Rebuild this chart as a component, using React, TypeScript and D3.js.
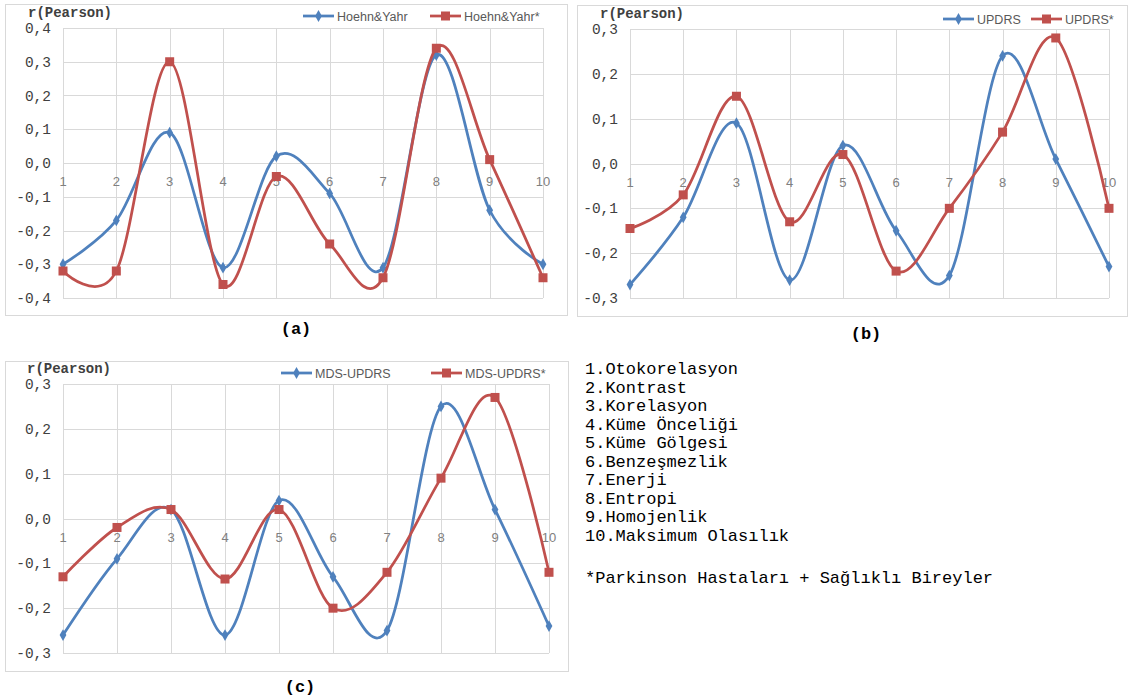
import React, { useEffect, useRef } from "react";
import * as d3 from "d3";

// x categories (feature index)
const categories = [1, 2, 3, 4, 5, 6, 7, 8, 9, 10];

// panel (a)
const hoehnYahr = [-0.3, -0.17, 0.09, -0.31, 0.02, -0.09, -0.31, 0.32, -0.14, -0.3];
const hoehnYahrAll = [-0.32, -0.32, 0.3, -0.36, -0.04, -0.24, -0.34, 0.34, 0.01, -0.34];
// panel (b)
const updrs = [-0.27, -0.12, 0.09, -0.26, 0.04, -0.15, -0.25, 0.24, 0.01, -0.23];
const updrsAll = [-0.145, -0.07, 0.15, -0.13, 0.02, -0.24, -0.1, 0.07, 0.28, -0.1];
// panel (c)
const mdsUpdrs = [-0.26, -0.09, 0.02, -0.26, 0.04, -0.13, -0.25, 0.25, 0.02, -0.24];
const mdsUpdrsAll = [-0.13, -0.02, 0.02, -0.135, 0.02, -0.2, -0.12, 0.09, 0.27, -0.12];

const ticksA = [0.4, 0.3, 0.2, 0.1, 0, -0.1, -0.2, -0.3, -0.4];
const ticksBC = [0.3, 0.2, 0.1, 0, -0.1, -0.2, -0.3];

const featureNames = [
  "1.Otokorelasyon",
  "2.Kontrast",
  "3.Korelasyon",
  "4.Küme Önceliği",
  "5.Küme Gölgesi",
  "6.Benzeşmezlik",
  "7.Enerji",
  "8.Entropi",
  "9.Homojenlik",
  "10.Maksimum Olasılık",
];
const footnote = "*Parkinson Hastaları + Sağlıklı Bireyler";

const BLUE = "#4F81BD";
const RED = "#C0504D";
const GRID = "#D9D9D9";
const MONO = "'Courier New', 'Liberation Mono', monospace";
const SANS = "'Liberation Sans', Arial, sans-serif";

const panels = [
  {
    box: [5, 4, 562, 311],
    plot: { left: 63, right: 543, top: 28, bottom: 298 },
    ticks: ticksA,
    series: [
      { name: "Hoehn&Yahr", values: hoehnYahr, color: BLUE, marker: "diamond" },
      { name: "Hoehn&Yahr*", values: hoehnYahrAll, color: RED, marker: "square" },
    ],
    legend: { y: 16, starts: [303, 430] },
    ylabel: [28, 13],
    title: ["(a)", 296, 328],
  },
  {
    box: [577, 5, 550, 311],
    plot: { left: 630, right: 1109, top: 29, bottom: 298 },
    ticks: ticksBC,
    series: [
      { name: "UPDRS", values: updrs, color: BLUE, marker: "diamond" },
      { name: "UPDRS*", values: updrsAll, color: RED, marker: "square" },
    ],
    legend: { y: 19, starts: [943, 1031] },
    ylabel: [600, 14],
    title: ["(b)", 866, 333],
  },
  {
    box: [5, 361, 563, 310],
    plot: { left: 63, right: 549, top: 384, bottom: 653 },
    ticks: ticksBC,
    series: [
      { name: "MDS-UPDRS", values: mdsUpdrs, color: BLUE, marker: "diamond" },
      { name: "MDS-UPDRS*", values: mdsUpdrsAll, color: RED, marker: "square" },
    ],
    legend: { y: 373, starts: [281, 431] },
    ylabel: [27, 369],
    title: ["(c)", 300, 686],
  },
];

const drawMarker = (g, kind, x, y, color) => {
  if (kind === "square") {
    g.append("rect")
      .attr("x", x - 4.5)
      .attr("y", y - 4.5)
      .attr("width", 9)
      .attr("height", 9)
      .attr("fill", color);
  } else {
    g.append("path")
      .attr("transform", `translate(${x},${y})`)
      .attr("d", d3.symbol().type(d3.symbolDiamond).size(40)())
      .attr("fill", color);
  }
};

const App = () => {
  const ref = useRef(null);

  useEffect(() => {
    const svg = d3.select(ref.current);
    svg.selectAll("*").remove();

    svg.append("rect").attr("width", 1129).attr("height", 697).attr("fill", "#fff");

    panels.forEach((p) => {
      const g = svg.append("g");
      const [bx, by, bw, bh] = p.box;
      g.append("rect")
        .attr("x", bx + 0.5)
        .attr("y", by + 0.5)
        .attr("width", bw)
        .attr("height", bh)
        .attr("fill", "#fff")
        .attr("stroke", GRID);

      const x = d3
        .scaleLinear()
        .domain([1, 10])
        .range([p.plot.left, p.plot.right]);
      const y = d3
        .scaleLinear()
        .domain([d3.min(p.ticks), d3.max(p.ticks)])
        .range([p.plot.bottom, p.plot.top]);

      // grid
      g.append("g")
        .selectAll("line")
        .data(p.ticks)
        .join("line")
        .attr("x1", p.plot.left)
        .attr("x2", p.plot.right)
        .attr("y1", (d) => Math.round(y(d)) + 0.5)
        .attr("y2", (d) => Math.round(y(d)) + 0.5)
        .attr("stroke", GRID);
      g.append("g")
        .selectAll("line")
        .data(categories)
        .join("line")
        .attr("x1", (d) => Math.round(x(d)) + 0.5)
        .attr("x2", (d) => Math.round(x(d)) + 0.5)
        .attr("y1", p.plot.top)
        .attr("y2", p.plot.bottom)
        .attr("stroke", GRID);

      // y tick labels
      g.append("g")
        .selectAll("text")
        .data(p.ticks)
        .join("text")
        .attr("x", p.plot.left - 12)
        .attr("y", (d) => y(d) + 5)
        .attr("text-anchor", "end")
        .attr("font-family", MONO)
        .attr("font-size", 14.5)
        .attr("fill", "#404040")
        .text((d) => d3.format(".1f")(d).replace("−", "-").replace(".", ","));

      // x tick labels
      g.append("g")
        .selectAll("text")
        .data(categories)
        .join("text")
        .attr("x", (d) => x(d))
        .attr("y", y(0) + 23)
        .attr("text-anchor", "middle")
        .attr("font-family", SANS)
        .attr("font-size", 13)
        .attr("fill", "#808080")
        .text((d) => d);

      // series
      const line = d3
        .line()
        .x((d, i) => x(categories[i]))
        .y((d) => y(d))
        .curve(d3.curveCardinal.tension(0));

      p.series.forEach((s) => {
        g.append("path")
          .datum(s.values)
          .attr("d", line)
          .attr("fill", "none")
          .attr("stroke", s.color)
          .attr("stroke-width", 2.75)
          .attr("stroke-linejoin", "round");
        s.values.forEach((v, i) => drawMarker(g, s.marker, x(categories[i]), y(v), s.color));
      });

      // axis title
      g.append("text")
        .attr("x", p.ylabel[0])
        .attr("y", p.ylabel[1] + 4)
        .attr("font-family", MONO)
        .attr("font-size", 14)
        .attr("font-weight", "bold")
        .attr("fill", "#404040")
        .text("r(Pearson)");

      // legend
      p.series.forEach((s, i) => {
        const lx = p.legend.starts[i];
        const ly = p.legend.y;
        g.append("line")
          .attr("x1", lx)
          .attr("x2", lx + 31)
          .attr("y1", ly)
          .attr("y2", ly)
          .attr("stroke", s.color)
          .attr("stroke-width", 2.75);
        drawMarker(g, s.marker, lx + 15.5, ly, s.color);
        g.append("text")
          .attr("x", lx + 34)
          .attr("y", ly + 4.5)
          .attr("font-family", SANS)
          .attr("font-size", 12.5)
          .attr("fill", "#595959")
          .text(s.name);
      });

      // caption
      svg.append("text")
        .attr("x", p.title[1])
        .attr("y", p.title[2] + 6)
        .attr("text-anchor", "middle")
        .attr("font-family", MONO)
        .attr("font-size", 17)
        .attr("font-weight", "bold")
        .attr("fill", "#000")
        .text(p.title[0]);
    });

    // feature list
    const list = svg.append("g");
    featureNames.forEach((t, i) => {
      list.append("text")
        .attr("x", 585)
        .attr("y", 374 + i * 18.5)
        .attr("font-family", MONO)
        .attr("font-size", 17)
        .attr("fill", "#000")
        .text(t);
    });
    list.append("text")
      .attr("x", 585)
      .attr("y", 583)
      .attr("font-family", MONO)
      .attr("font-size", 17)
      .attr("fill", "#000")
      .text(footnote);
  }, []);

  return (
    <svg
      ref={ref}
      width={1129}
      height={697}
      style={{ position: "absolute", left: 0, top: 0, display: "block" }}
    />
  );
};

export default App;
